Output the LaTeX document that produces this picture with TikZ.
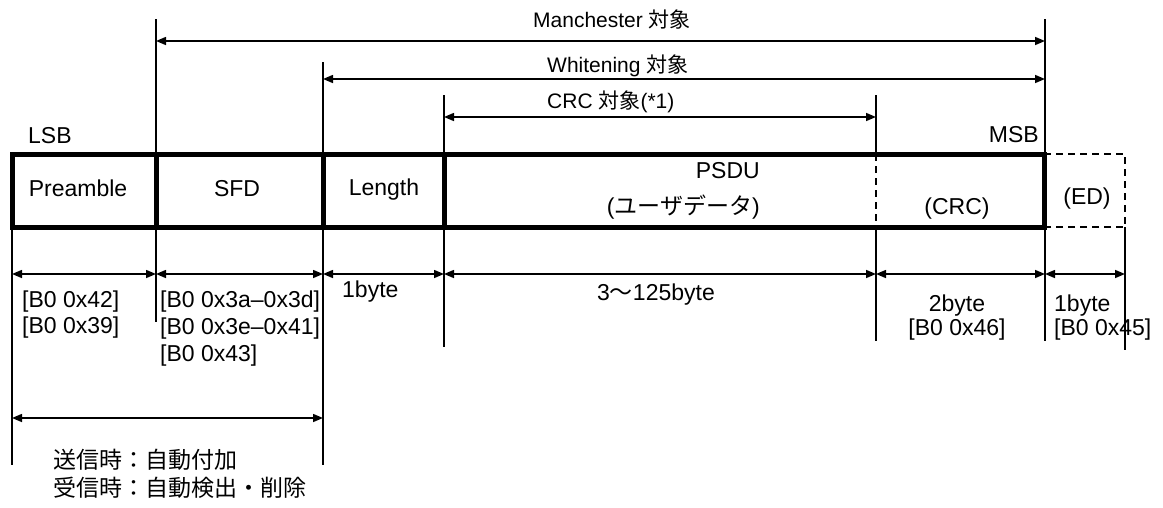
\documentclass[tikz,border=0pt]{standalone}
\usepackage{fontspec}
\setmainfont{Liberation Sans}
\newfontfamily\jp{Noto Sans CJK JP}
\usetikzlibrary{arrows.meta}
\tikzset{
  txt/.style={inner sep=0pt, font=\fontsize{23}{27}\selectfont},
  toptxt/.style={inner sep=0pt, font=\fontsize{21}{25}\selectfont},
  jptxt/.style={inner sep=0pt, font=\jp\fontsize{23}{27}\selectfont},
  dim/.style={line width=1.5pt, {Triangle[length=10pt,width=8pt]}-{Triangle[length=10pt,width=8pt]}},
  guide/.style={line width=1.2pt},
  frame/.style={line width=5pt},
  dashline/.style={line width=1.3pt, dash pattern=on 7pt off 5pt}
}
\begin{document}
\begin{tikzpicture}[x=1pt,y=-1pt]
\useasboundingbox (0,0) rectangle (1163,507);
% guide lines
\coordinate (g1t) at (156,19);   \coordinate (g1b) at (156,322);
\coordinate (g2t) at (323,62);   \coordinate (g2b) at (323,465);
\coordinate (g3t) at (444,95);   \coordinate (g3b) at (444,347);
\coordinate (g4t) at (876,95);   \coordinate (g4m) at (876,154);
\coordinate (g4n) at (876,227);  \coordinate (g4b) at (876,341);
\coordinate (g5t) at (1045,19);  \coordinate (g5b) at (1045,341);
\coordinate (g6t) at (1125,227); \coordinate (g6b) at (1125,350);
\coordinate (g0t) at (12,227);   \coordinate (g0b) at (12,465);
\draw[guide] (g1t) -- (g1b);
\draw[guide] (g2t) -- (g2b);
\draw[guide] (g3t) -- (g3b);
\draw[guide] (g4t) -- (g4m);
\draw[guide] (g4n) -- (g4b);
\draw[guide] (g5t) -- (g5b);
\draw[guide] (g6t) -- (g6b);
\draw[guide] (g0t) -- (g0b);
% frame
\coordinate (fa) at (12,154);
\coordinate (fb) at (1044,227);
\draw[dashline] (g4m) -- (g4n);
\draw[dashline] (1044,154) -| (1125,227) -- (1044,227);
\draw[frame] (fa) rectangle (fb);
\draw[frame] (156,154) -- (156,227);
\draw[frame] (323,154) -- (323,227);
\draw[frame] (444,154) -- (444,227);
% top arrows
\coordinate (ma) at (156,41);  \coordinate (mb) at (1045,41);
\coordinate (wa) at (323,79);  \coordinate (wb) at (1045,79);
\coordinate (ca) at (444,117); \coordinate (cb) at (876,117);
\draw[dim] (ma) -- (mb);
\draw[dim] (wa) -- (wb);
\draw[dim] (ca) -- (cb);
% dimension arrows
\coordinate (d0) at (12,274);
\coordinate (d1) at (156,274);
\coordinate (d2) at (323,274);
\coordinate (d3) at (444,274);
\coordinate (d4) at (876,274);
\coordinate (d5) at (1045,274);
\coordinate (d6) at (1125,274);
\draw[dim] (d0) -- (d1);
\draw[dim] (d1) -- (d2);
\draw[dim] (d2) -- (d3);
\draw[dim] (d3) -- (d4);
\draw[dim] (d4) -- (d5);
\draw[dim] (d5) -- (d6);
\coordinate (la) at (12,418);
\coordinate (lb) at (323,418);
\draw[dim] (la) -- (lb);
% top labels
\node[toptxt, anchor=base west] (tman) at (533,27) {Manchester {\jp 対象}};
\node[toptxt, anchor=base west] (twhi) at (547,72) {Whitening {\jp 対象}};
\node[toptxt, anchor=base west] (tcrc) at (547,108) {CRC {\jp 対象}(*1)};
\node[txt, anchor=base west] (lsb) at (28,143) {LSB};
\node[txt, anchor=base east] (msb) at (1039,142) {MSB};
% frame texts
\node[txt, anchor=base] (pre) at (78,196) {Preamble};
\node[txt, anchor=base] (sfd) at (237,196) {SFD};
\node[txt, anchor=base] (len) at (384,195) {Length};
\node[txt, anchor=base east] (psdu) at (760,178) {PSDU};
\node[txt, anchor=base east] (ud) at (760,214) {({\jp ユーザデータ})};
\node[txt, anchor=base] (crc) at (957,214) {(CRC)};
\node[txt, anchor=base] (ed) at (1087,204) {(ED)};
% lower texts
\node[txt, anchor=base west] (p1) at (22,307) {[B0 0x42]};
\node[txt, anchor=base west] (p2) at (22,333) {[B0 0x39]};
\node[txt, anchor=base west] (s1) at (160,307) {[B0 0x3a--0x3d]};
\node[txt, anchor=base west] (s2) at (160,334) {[B0 0x3e--0x41]};
\node[txt, anchor=base west] (s3) at (160,361) {[B0 0x43]};
\node[txt, anchor=base west] (l1) at (342,297) {1byte};
\node[txt, anchor=base west] (u1) at (597,300) {3{\jp 〜}125byte};
\node[txt, anchor=base] (c1) at (957,311) {2byte};
\node[txt, anchor=base] (c2) at (957,335) {[B0 0x46]};
\node[txt, anchor=base west] (e1) at (1054,311) {1byte};
\node[txt, anchor=base west] (e2) at (1054,335) {[B0 0x45]};
\node[jptxt, anchor=base west] (j1) at (53,468) {送信時：自動付加};
\node[jptxt, anchor=base west] (j2) at (53,496) {受信時：自動検出・削除};
\end{tikzpicture}
\end{document}
